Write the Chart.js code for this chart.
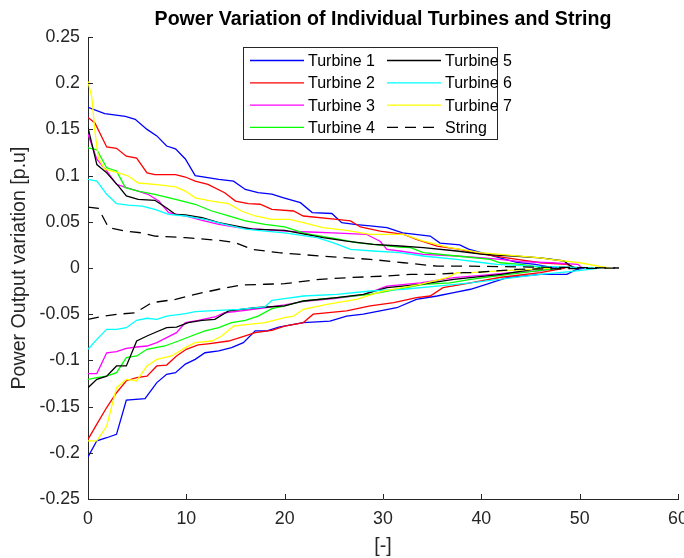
<!doctype html>
<html lang="en">
<head>
<meta charset="utf-8">
<title>Power Variation of Individual Turbines and String</title>
<script src="https://cdn.jsdelivr.net/npm/chart.js@4.4.1/dist/chart.umd.min.js"></script>
<style>
  html, body { margin: 0; padding: 0; background: #fff; }
  #wrap { width: 684px; height: 558px; }
</style>
</head>
<body>
<div id="wrap"><canvas id="chart" width="684" height="558"></canvas></div>
<script>
const xTicks = [0, 10, 20, 30, 40, 50, 60];
const yTicks = [-0.25, -0.2, -0.15, -0.1, -0.05, 0, 0.05, 0.1, 0.15, 0.2, 0.25];
const yTickLabels = ['-0.25', '-0.2', '-0.15', '-0.1', '-0.05', '0', '0.05', '0.1', '0.15', '0.2', '0.25'];

const seriesNames = ['Turbine 1', 'Turbine 2', 'Turbine 3', 'Turbine 4', 'Turbine 5', 'Turbine 6', 'Turbine 7', 'String'];
const seriesColors = ['#0000ff', '#ff0000', '#ff00ff', '#00ff00', '#000000', '#00ffff', '#ffff00', '#000000'];

// [x, value] pairs; each series has an upper and a lower branch
const turbine1Upper = [[0,0.174],[1.7,0.167],[3.8,0.164],[4.8,0.161],[6,0.150],[7,0.143],[8,0.132],[8.9,0.129],[9.9,0.118],[10.9,0.100],[13.3,0.096],[14.8,0.094],[16,0.085],[17.3,0.0815],[18.7,0.080],[19.9,0.076],[21.6,0.0707],[22.8,0.060],[24.8,0.059],[25.8,0.049],[27.3,0.047],[28.7,0.0455],[30.4,0.0436],[32,0.038],[34.8,0.0346],[35.8,0.027],[37.8,0.025],[38.7,0.0205],[40.6,0.0148],[41.9,0.011],[43.6,0.006],[45.5,0.004],[47,0.001],[48,0]];
const turbine1Lower = [[0,-0.2045],[0.9,-0.187],[1.9,-0.1837],[2.9,-0.18],[3.9,-0.143],[5.8,-0.1414],[7,-0.124],[8,-0.115],[8.9,-0.1133],[9.9,-0.104],[10.9,-0.0989],[11.9,-0.0917],[13.3,-0.0898],[14.6,-0.0862],[15.8,-0.0808],[17,-0.068],[18.2,-0.068],[19.4,-0.0639],[21.9,-0.059],[24.6,-0.0574],[26.3,-0.052],[28,-0.050],[29.7,-0.0465],[31.4,-0.043],[33.4,-0.034],[35.5,-0.0303],[37.2,-0.0267],[38.9,-0.023],[40.5,-0.0177],[42.6,-0.0105],[46,-0.0068],[48.7,-0.0068],[49.7,-0.0014],[50.5,0]];
const turbine2Upper = [[0,0.163],[0.7,0.157],[1.9,0.131],[2.9,0.1295],[3.9,0.121],[4.95,0.119],[6,0.103],[6.8,0.101],[8.9,0.101],[9.9,0.0985],[10.9,0.094],[12.2,0.0906],[13.9,0.0815],[15,0.0725],[16.3,0.0696],[17.5,0.069],[18.7,0.0635],[20.9,0.0617],[21.9,0.0563],[25.3,0.0527],[26.7,0.051],[27.7,0.0444],[29.7,0.040],[32.1,0.0365],[33.4,0.031],[35.5,0.0238],[37.8,0.0202],[39.2,0.0166],[42.6,0.011],[46,0.0057],[48.7,0.004],[49.7,0]];
const turbine2Lower = [[0,-0.1854],[0.9,-0.169],[1.9,-0.151],[2.9,-0.135],[3.9,-0.122],[4.95,-0.1187],[6,-0.117],[7,-0.106],[8,-0.105],[9,-0.0952],[10,-0.088],[11.2,-0.0833],[12.2,-0.082],[14.3,-0.079],[15.6,-0.0747],[17,-0.070],[18.7,-0.0674],[20,-0.0628],[21.9,-0.059],[22.9,-0.050],[26.3,-0.0465],[28.7,-0.041],[31.1,-0.0375],[33.4,-0.032],[34.8,-0.0303],[36.1,-0.0213],[38.9,-0.016],[42,-0.010],[46,-0.005],[48.5,0]];
const turbine3Upper = [[0,0.1447],[0.9,0.1177],[1.9,0.105],[2.9,0.0906],[3.9,0.087],[5.1,0.0833],[6.1,0.0798],[7.2,0.0725],[8.2,0.060],[9.9,0.0563],[11.6,0.0516],[13.3,0.0473],[15.3,0.0436],[17.3,0.042],[20,0.040],[22.6,0.039],[24.9,0.038],[28.3,0.0365],[29.7,0.029],[30.4,0.0202],[31.7,0.0184],[34.1,0.0148],[37.5,0.013],[40.2,0.011],[41.9,0.0094],[44,0.007],[47.1,0.0057],[49.8,0.004],[50.3,0]];
const turbine3Lower = [[0,-0.1143],[0.9,-0.1143],[1.9,-0.0917],[2.9,-0.0906],[3.9,-0.087],[4.95,-0.0855],[6,-0.0844],[7,-0.0808],[8,-0.0754],[9,-0.070],[9.9,-0.059],[11.2,-0.0566],[12.9,-0.053],[13.9,-0.0484],[16,-0.0458],[18,-0.043],[20,-0.040],[22,-0.036],[25,-0.033],[28,-0.029],[30.4,-0.0195],[33.8,-0.016],[37.2,-0.0105],[40,-0.008],[43,-0.005],[46,-0.003],[47.5,0]];
const turbine4Upper = [[0,0.130],[0.9,0.128],[1.9,0.1085],[2.9,0.105],[3.8,0.087],[5.1,0.0833],[6.8,0.0798],[8.9,0.0743],[10.9,0.069],[12.6,0.0617],[14.3,0.0563],[16,0.0509],[18,0.0473],[20,0.0445],[21.9,0.038],[22.6,0.0365],[25.6,0.031],[27.3,0.0274],[29,0.0256],[31.7,0.0227],[32.8,0.022],[34.1,0.0166],[37.5,0.013],[40.9,0.0094],[41.9,0.0057],[44,0.004],[46.5,0]];
const turbine4Lower = [[0,-0.1205],[0.9,-0.1187],[1.9,-0.117],[2.9,-0.1133],[3.9,-0.097],[4.95,-0.0952],[6,-0.088],[7.8,-0.0844],[9.2,-0.079],[10.5,-0.0736],[11.9,-0.068],[13.3,-0.0646],[14.6,-0.059],[16,-0.0566],[17.3,-0.052],[18.7,-0.044],[20,-0.041],[21.9,-0.0357],[25.3,-0.032],[28.7,-0.0285],[31.4,-0.023],[34.1,-0.0176],[36.8,-0.016],[38.9,-0.0122],[42,-0.008],[45,-0.004],[48,0]];
const turbine5Upper = [[0,0.152],[0.9,0.112],[1.9,0.103],[3.1,0.0887],[3.9,0.078],[5.1,0.0743],[6.8,0.0733],[8,0.065],[8.9,0.058],[9.9,0.0574],[11.6,0.0544],[13.3,0.049],[15,0.0455],[16.7,0.042],[20,0.0408],[23.9,0.0328],[26.3,0.029],[29,0.0256],[31.7,0.0238],[34.1,0.022],[37.5,0.0184],[40.2,0.0148],[43.3,0.013],[46,0.011],[48.4,0.0076],[49.1,0.002],[49.5,0]];
const turbine5Lower = [[0,-0.1295],[0.9,-0.1205],[1.9,-0.117],[2.9,-0.106],[3.9,-0.106],[4.95,-0.079],[6,-0.0736],[7,-0.069],[8,-0.0646],[9,-0.0639],[10.2,-0.059],[11.6,-0.0566],[12.9,-0.0555],[14.3,-0.0465],[15.6,-0.0447],[17,-0.043],[20,-0.041],[21.9,-0.0357],[25.3,-0.032],[28,-0.0285],[30.4,-0.0213],[33.8,-0.0176],[37.2,-0.0122],[38.9,-0.0105],[42,-0.007],[45.3,-0.0014],[46,0]];
const turbine6Upper = [[0,0.096],[0.9,0.094],[1.9,0.0798],[2.9,0.0696],[4.1,0.068],[5.5,0.067],[6.8,0.0635],[8.2,0.058],[9.9,0.0563],[11.9,0.0527],[13.9,0.0473],[16,0.042],[18,0.040],[20,0.038],[23.3,0.0328],[24.9,0.0274],[26.7,0.0202],[29,0.0184],[31.7,0.0166],[34.1,0.013],[37.5,0.0094],[40.2,0.0057],[41.6,0.004],[45,0.002],[49,0.001],[51.5,0]];
const turbine6Lower = [[0,-0.088],[0.9,-0.0772],[1.9,-0.0664],[2.9,-0.0664],[3.9,-0.0646],[4.95,-0.0566],[6,-0.0544],[7,-0.0555],[8,-0.052],[9.9,-0.0494],[10.9,-0.0473],[13.3,-0.0458],[15.3,-0.0447],[18,-0.042],[18.7,-0.035],[20,-0.0332],[21.9,-0.0303],[25.3,-0.0285],[28.7,-0.0249],[32.1,-0.023],[35.5,-0.0195],[38.9,-0.016],[42,-0.012],[46,-0.007],[49,-0.004],[51,-0.0014],[52,0]];
const turbine7Upper = [[0,0.202],[0.4,0.184],[0.7,0.148],[1.05,0.119],[1.7,0.107],[3.1,0.103],[4.1,0.0996],[5.1,0.092],[6.8,0.0906],[8.9,0.0877],[9.9,0.0833],[10.9,0.076],[12.6,0.0725],[14.3,0.0696],[15.6,0.0617],[17,0.0563],[18.7,0.0527],[20.5,0.0527],[21.9,0.049],[23.9,0.0436],[26.3,0.0408],[28.7,0.0365],[32.1,0.0365],[34.1,0.029],[36.8,0.022],[38.1,0.020],[39.9,0.0166],[46,0.011],[47,0.0094],[50,0.0057],[52.5,0.001],[53,0]];
const turbine7Lower = [[0,-0.187],[0.9,-0.187],[1.9,-0.171],[2.9,-0.1295],[3.9,-0.1205],[4.95,-0.122],[6,-0.106],[7,-0.0989],[8.5,-0.0952],[9.9,-0.0862],[10.9,-0.0808],[12.6,-0.079],[13.6,-0.0736],[14.8,-0.0628],[16.3,-0.061],[18,-0.059],[20,-0.0538],[20.9,-0.052],[21.9,-0.0447],[24.3,-0.0393],[27.3,-0.034],[30,-0.0249],[33.8,-0.0176],[36.5,-0.0105],[37.5,-0.005],[38.9,-0.005],[42,-0.003],[46,-0.001],[47,0]];
const stringUpper = [[0,0.066],[1.05,0.0646],[2.1,0.0436],[3.8,0.040],[5.5,0.038],[6.8,0.0346],[9.9,0.0328],[13.3,0.030],[15,0.0274],[16.7,0.0202],[19.4,0.0166],[23.6,0.013],[28.7,0.0094],[32.1,0.0057],[35.5,0.002],[38.9,0.002],[45,0.001],[54,0]];
const stringLower = [[0,-0.0555],[1.7,-0.052],[3.1,-0.050],[4.8,-0.0484],[6.5,-0.0375],[8.9,-0.034],[10.9,-0.0285],[13.3,-0.023],[15.6,-0.0184],[18,-0.0176],[20,-0.017],[23.6,-0.0122],[26.3,-0.0105],[30.4,-0.0087],[32.8,-0.0068],[35.5,-0.0068],[38.2,-0.005],[39.2,-0.005],[43.6,-0.0014],[54,0]];

const seriesUpper = [turbine1Upper, turbine2Upper, turbine3Upper, turbine4Upper, turbine5Upper, turbine6Upper, turbine7Upper, stringUpper];
const seriesLower = [turbine1Lower, turbine2Lower, turbine3Lower, turbine4Lower, turbine5Lower, turbine6Lower, turbine7Lower, stringLower];

const FONT = "'Liberation Sans', Arial, Helvetica, sans-serif";
const AXIS_COLOR = '#262626';
const DASH = [11, 7];

const toPoints = pairs => pairs.map(([x, y]) => ({ x, y }));

const datasets = [];
seriesNames.forEach((name, i) => {
    [seriesUpper[i], seriesLower[i]].forEach(branch => {
        datasets.push({
            label: name,
            data: toPoints(branch),
            borderColor: seriesColors[i],
            borderWidth: 1.3,
            borderDash: i === 7 ? DASH : [],
            pointRadius: 0,
            tension: 0,
            fill: false,
            order: seriesNames.length - i
        });
    });
});

// MATLAB-like ticks pointing into the axes
const innerTicks = {
    id: 'innerTicks',
    afterDraw(chart) {
        const { ctx, chartArea: a, scales: { x, y } } = chart;
        ctx.save();
        ctx.strokeStyle = AXIS_COLOR;
        ctx.lineWidth = 1;
        ctx.beginPath();
        y.ticks.forEach(t => {
            const py = Math.round(y.getPixelForValue(t.value)) + 0.5;
            ctx.moveTo(a.left, py);
            ctx.lineTo(a.left + 5, py);
        });
        x.ticks.forEach(t => {
            const px = Math.round(x.getPixelForValue(t.value)) + 0.5;
            ctx.moveTo(px, a.bottom);
            ctx.lineTo(px, a.bottom - 5);
        });
        ctx.stroke();
        ctx.restore();
    }
};

// two-column legend box like the figure
const boxLegend = {
    id: 'boxLegend',
    afterDraw(chart) {
        const ctx = chart.ctx;
        ctx.save();
        ctx.fillStyle = '#fff';
        ctx.fillRect(243.5, 47.5, 254, 92);
        ctx.strokeStyle = AXIS_COLOR;
        ctx.lineWidth = 1;
        ctx.strokeRect(243.5, 47.5, 254, 92);
        ctx.font = '16px ' + FONT;
        ctx.textBaseline = 'middle';
        ctx.textAlign = 'left';
        seriesNames.forEach((name, i) => {
            const col = Math.floor(i / 4), row = i % 4;
            const x0 = col ? 387 : 250;
            const yy = 60.5 + row * 22.3;
            ctx.strokeStyle = seriesColors[i];
            ctx.lineWidth = 1.3;
            ctx.setLineDash(i === 7 ? DASH : []);
            ctx.beginPath();
            ctx.moveTo(x0, yy);
            ctx.lineTo(x0 + 54, yy);
            ctx.stroke();
            ctx.fillStyle = '#000';
            ctx.fillText(name, x0 + 58, yy + 1);
        });
        ctx.restore();
    }
};

new Chart(document.getElementById('chart'), {
    type: 'line',
    data: { datasets },
    options: {
        responsive: false,
        animation: false,
        devicePixelRatio: 1,
        layout: { padding: { left: 0, right: 6, top: 0, bottom: 0 } },
        plugins: {
            legend: { display: false },
            tooltip: { enabled: false },
            title: {
                display: true,
                fullSize: false,
                text: 'Power Variation of Individual Turbines and String',
                color: '#000',
                font: { family: FONT, size: 19.6, weight: 'bold' },
                padding: { top: 8, bottom: 5.5 }
            }
        },
        scales: {
            x: {
                type: 'linear',
                min: 0,
                max: 60,
                afterBuildTicks: s => { s.ticks = xTicks.map(v => ({ value: v })); },
                afterFit: s => { s.height = 59; s.paddingLeft = 0; s.paddingRight = 0; },
                grid: { display: false, drawTicks: false },
                border: { display: true, color: AXIS_COLOR, width: 1 },
                ticks: { color: AXIS_COLOR, font: { family: FONT, size: 17.8 }, padding: 9, autoSkip: false, maxRotation: 0 },
                title: { display: true, text: '[-]', color: AXIS_COLOR, font: { family: FONT, size: 19.6 }, padding: { top: 0, bottom: 0 } }
            },
            y: {
                min: -0.25,
                max: 0.25,
                afterBuildTicks: s => { s.ticks = yTicks.map(v => ({ value: v })); },
                afterFit: s => { s.width = 88; s.paddingTop = 0; s.paddingBottom = 0; },
                grid: { display: false, drawTicks: false },
                border: { display: true, color: AXIS_COLOR, width: 1 },
                ticks: { color: AXIS_COLOR, font: { family: FONT, size: 17.8 }, padding: 8, autoSkip: false,
                    callback: (v, i) => yTickLabels[i] },
                title: { display: true, text: 'Power Output variation [p.u]', color: AXIS_COLOR, font: { family: FONT, size: 19.6 }, padding: { top: 8, bottom: 0 } }
            }
        }
    },
    plugins: [innerTicks, boxLegend]
});
</script>
</body>
</html>
